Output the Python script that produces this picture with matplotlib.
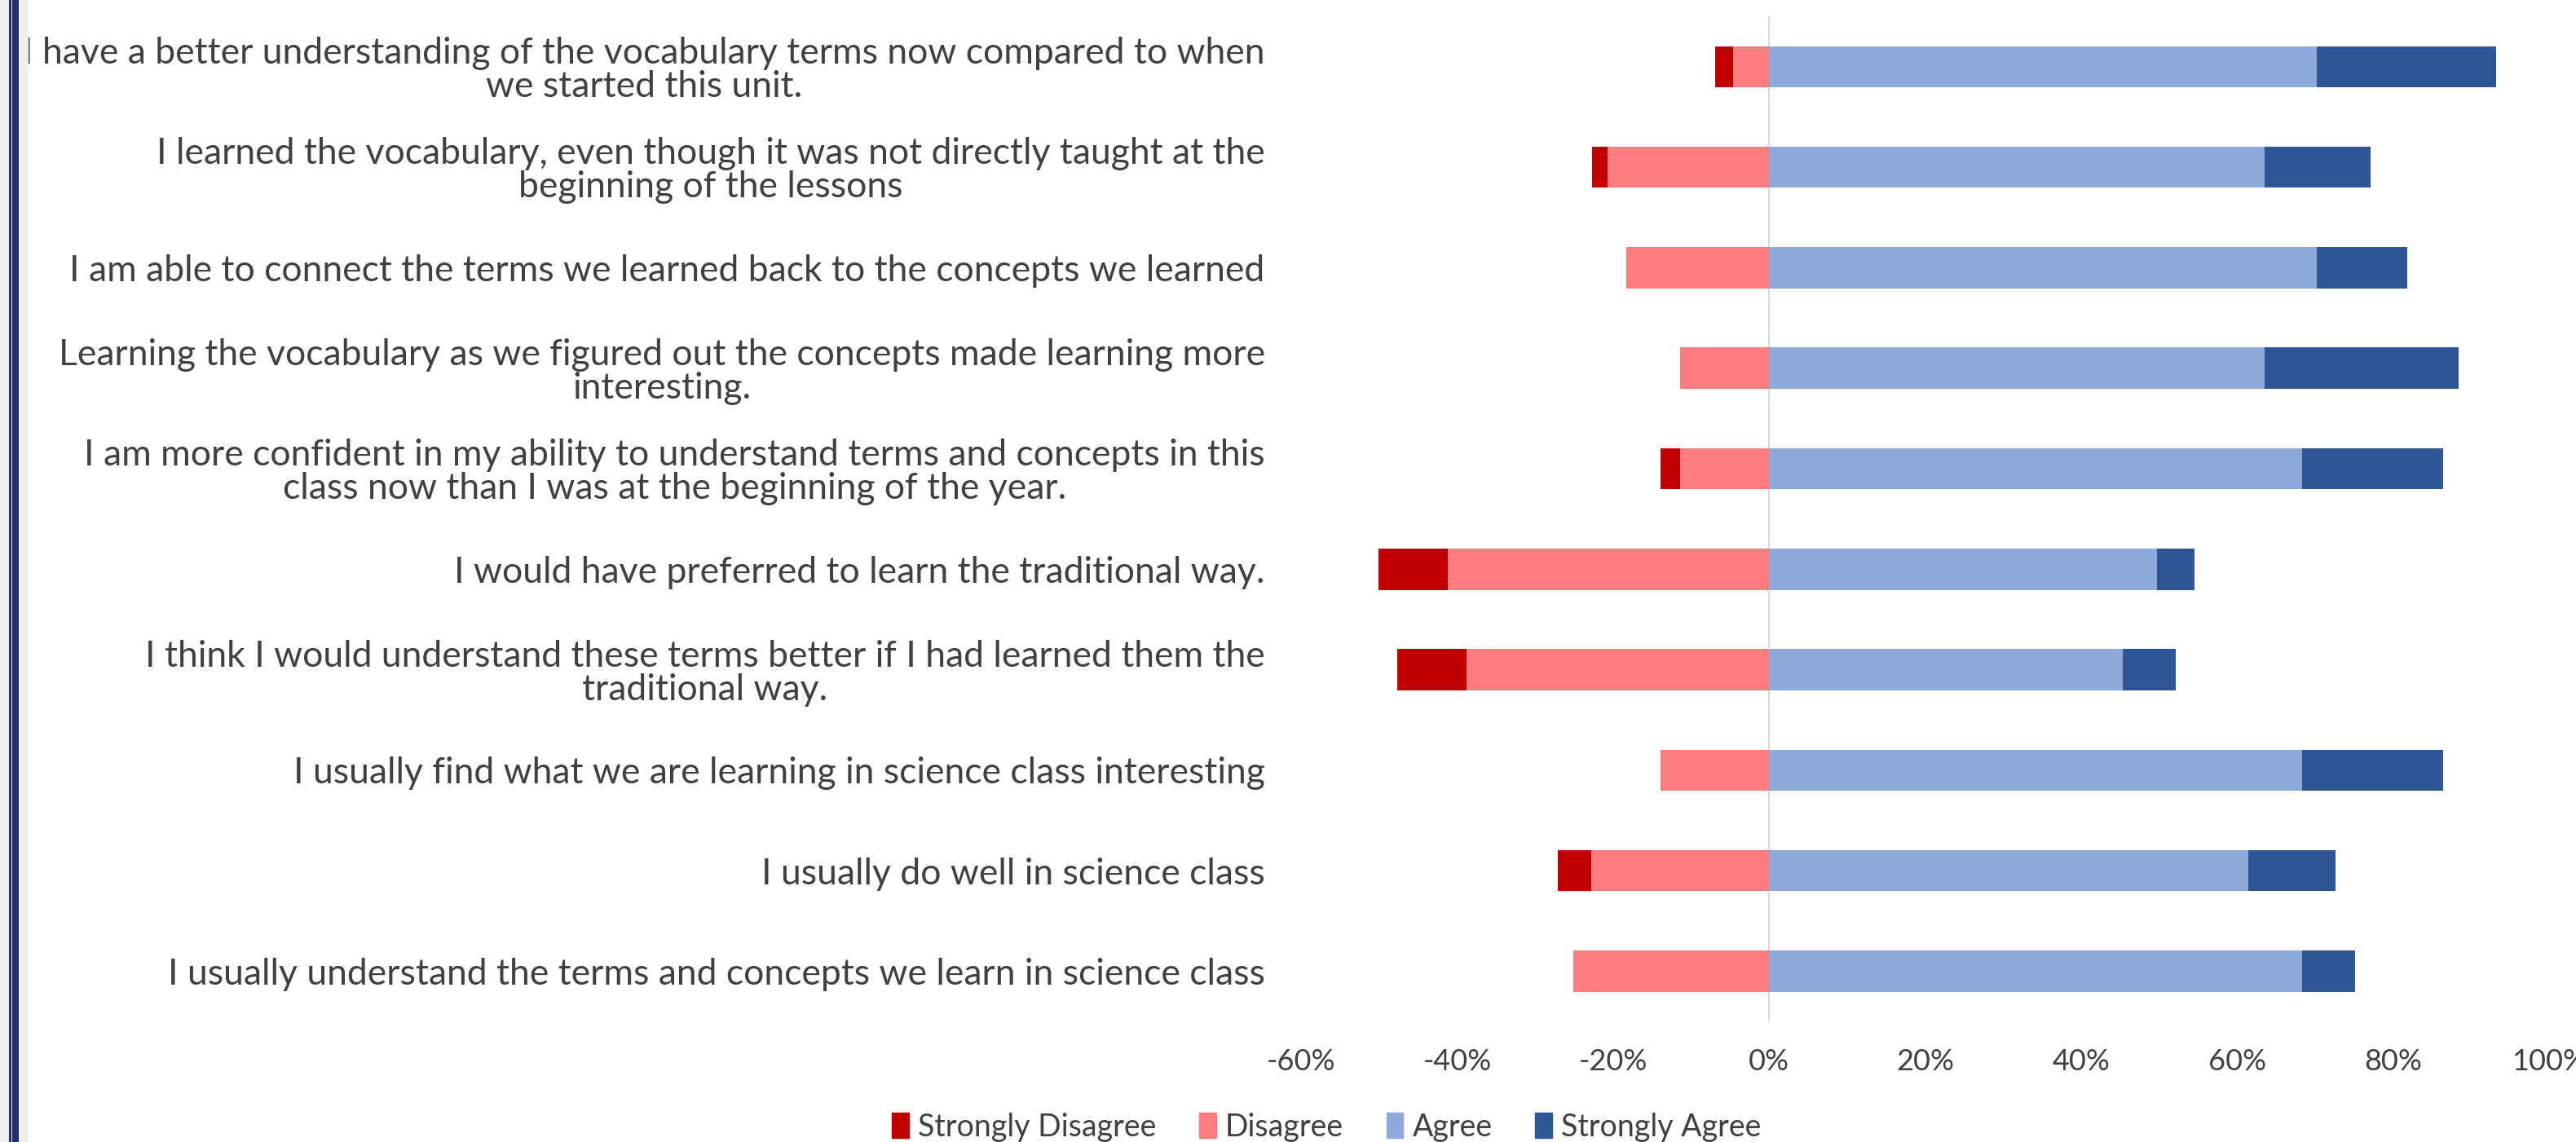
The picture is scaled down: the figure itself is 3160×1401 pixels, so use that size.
import numpy as np
import matplotlib
matplotlib.use("Agg")
import matplotlib.pyplot as plt
from matplotlib.patches import Rectangle, Patch
from matplotlib.ticker import FuncFormatter

# survey statements, top to bottom
statements = [
    "I have a better understanding of the vocabulary terms now compared to when\nwe started this unit.",
    "I learned the vocabulary, even though it was not directly taught at the\nbeginning of the lessons",
    "I am able to connect the terms we learned back to the concepts we learned",
    "Learning the vocabulary as we figured out the concepts made learning more\ninteresting.",
    "I am more confident in my ability to understand terms and concepts in this\nclass now than I was at the beginning of the year.",
    "I would have preferred to learn the traditional way.",
    "I think I would understand these terms better if I had learned them the\ntraditional way.",
    "I usually find what we are learning in science class interesting",
    "I usually do well in science class",
    "I usually understand the terms and concepts we learn in science class",
]

# percentages of responses
strongly_disagree = [2.3, 2.0, 0.0, 0.0, 2.5, 8.9, 8.9, 0.0, 4.3, 0.0]
disagree = [4.6, 20.7, 18.3, 11.4, 11.4, 41.2, 38.8, 13.9, 22.8, 25.1]
agree = [70.2, 63.5, 70.2, 63.5, 68.3, 49.7, 45.3, 68.3, 61.4, 68.3]
strongly_agree = [23.0, 13.6, 11.6, 24.9, 18.1, 4.8, 6.8, 18.1, 11.2, 6.8]

x_ticks = [-60, -40, -20, 0, 20, 40, 60, 80, 100]

COL_SD = "#C00000"
COL_D = "#FF7C80"
COL_A = "#8EA9DB"
COL_SA = "#2F5597"
TEXT = "#404040"

plt.rcParams["font.family"] = ["Lato", "DejaVu Sans"]

fig = plt.figure(figsize=(31.6, 14.01), dpi=100, facecolor="white")

# window frame on the left edge
fig.add_artist(Rectangle((0, 0), 0.011, 1, transform=fig.transFigure,
                         facecolor="#EEEEEE", edgecolor="none"))
fig.add_artist(Rectangle((0.0035, 0), 0.0008, 1, transform=fig.transFigure,
                         facecolor="#1F2F6B", edgecolor="none"))
fig.add_artist(Rectangle((0.0047, 0), 0.0026, 1, transform=fig.transFigure,
                         facecolor="#1F2F6B", edgecolor="none"))

ax = fig.add_axes([0.5051, 0.1056, 0.4845, 0.880])

y = np.arange(len(statements))
sd = np.array(strongly_disagree)
d = np.array(disagree)
a = np.array(agree)
sa = np.array(strongly_agree)
h = 0.41

ax.barh(y, -d, height=h, color=COL_D, label="Disagree")
ax.barh(y, -sd, left=-d, height=h, color=COL_SD, label="Strongly Disagree")
ax.barh(y, a, height=h, color=COL_A, label="Agree")
ax.barh(y, sa, left=a, height=h, color=COL_SA, label="Strongly Agree")

ax.axvline(0, color="#D9D9D9", lw=1.5, zorder=0)

ax.set_xlim(-60, 100)
ax.set_ylim(len(statements) - 0.5, -0.5)
ax.set_xticks(x_ticks)
ax.xaxis.set_major_formatter(FuncFormatter(lambda v, _: f"{v:.0f}%"))
ax.set_yticks(y)
ax.set_yticklabels(statements, ha="right", multialignment="center")

ax.tick_params(axis="x", length=0, pad=24, labelsize=26, labelcolor=TEXT)
ax.tick_params(axis="y", length=0, pad=32, labelsize=32, labelcolor=TEXT)
for lbl in ax.get_yticklabels():
    lbl.set_linespacing(1.0)

for s in ax.spines.values():
    s.set_visible(False)

handles = [Patch(color=COL_SD), Patch(color=COL_D), Patch(color=COL_A), Patch(color=COL_SA)]
names = ["Strongly Disagree", "Disagree", "Agree", "Strongly Agree"]
fig.legend(handles, names, loc="center", bbox_to_anchor=(0.515, 0.013), ncol=4,
           frameon=False, fontsize=27, labelcolor=TEXT, handlelength=0.55,
           handleheight=0.9, handletextpad=0.3, columnspacing=1.4)

fig.savefig("out.png", dpi=100, facecolor="white")
